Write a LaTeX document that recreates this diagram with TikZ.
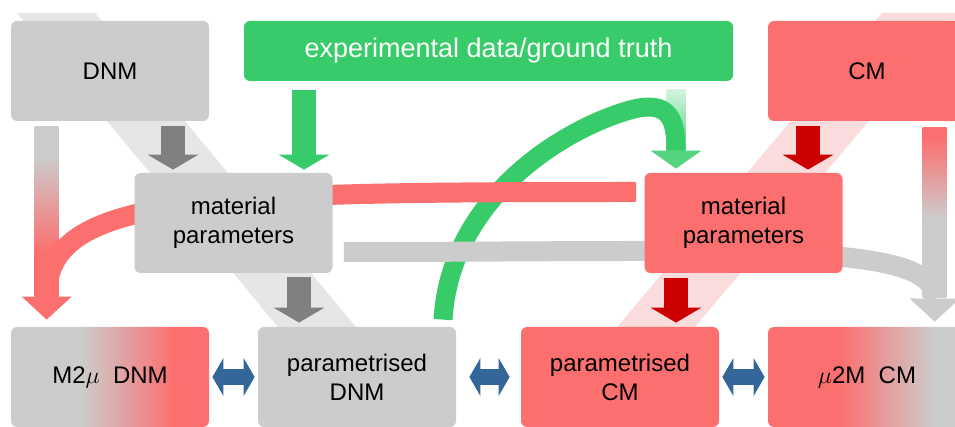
\documentclass[tikz,border=0pt]{standalone}
\usepackage{fontspec}
\setmainfont{Liberation Sans}
\usetikzlibrary{arrows.meta,calc}

\definecolor{boxgray}{HTML}{CCCCCC}
\definecolor{boxred}{HTML}{FC6F6F}
\definecolor{boxgreen}{HTML}{37CC69}
\definecolor{bandgray}{HTML}{E6E6E6}
\definecolor{bandred}{HTML}{FADCDC}
\definecolor{arrgray}{HTML}{808080}
\definecolor{arrred}{HTML}{CC0000}
\definecolor{arrblue}{HTML}{336699}

% gray-to-red fades for the mixed boxes and the side shafts
\pgfdeclarehorizontalshading{dnmshade}{100bp}{color(0bp)=(boxgray); color(43bp)=(boxgray); color(66bp)=(boxred); color(100bp)=(boxred)}
\pgfdeclarehorizontalshading{cmshade}{100bp}{color(0bp)=(boxred); color(43bp)=(boxred); color(67bp)=(boxgray); color(100bp)=(boxgray)}
\pgfdeclareverticalshading{dnmshaft}{100bp}{color(0bp)=(boxred); color(38bp)=(boxred); color(66bp)=(boxgray); color(100bp)=(boxgray)}
\pgfdeclareverticalshading{cmshaft}{100bp}{color(0bp)=(boxgray); color(48bp)=(boxgray); color(72bp)=(boxred); color(100bp)=(boxred)}

\pgfdeclarelayer{bg}
\pgfsetlayers{bg,main}

\begin{document}
\begin{tikzpicture}[x=0.5pt, y=-0.5pt, line join=round,
	box/.style={rounded corners=3pt, minimum width=99pt, minimum height=50pt, inner sep=0pt, align=center, font=\fontsize{12}{14.5}\selectfont},
	band/.style={line width=12pt, -{Triangle[length=7.5pt, width=25.5pt, line width=0pt]}, shorten <=2.5pt, shorten >=1.5pt},
	curve/.style={line width=10pt, -{Triangle[length=11.5pt, width=25pt, line width=0pt]}},
	exchange/.style={line width=8pt, arrblue, {Triangle[length=5.5pt, width=19pt, line width=0pt]}-{Triangle[length=5.5pt, width=19pt, line width=0pt]}, shorten <=1.5pt, shorten >=1.5pt}]
	\useasboundingbox (0,0) rectangle (955,427);

	% top row
	\node[box, fill=boxgray] (dnm) at (110,71) {DNM};
	\node[box, fill=boxgreen, minimum width=244.5pt, minimum height=30pt, text=white, font=\fontsize{13.5}{16}\selectfont] (exp) at (488.5,51) {experimental data/ground truth};
	\node[box, fill=boxred] (cm) at (867,71) {CM};
	% middle row
	\node[box, fill=boxgray] (matL) at (233.5,223) {material\\parameters};
	\node[box, fill=boxred] (matR) at (743.5,223) {material\\parameters};
	% bottom row
	\node[box, shade, shading=dnmshade] (m2mu) at (110,377) {M2$\mu$~~DNM};
	\node[box, fill=boxgray] (parD) at (357,377) {parametrised\\DNM};
	\node[box, fill=boxred] (parC) at (620,377) {parametrised\\CM};
	\node[box, shade, shading=cmshade] (mu2m) at (867,377) {$\mu$2M~~CM};

	\begin{pgfonlayer}{bg}
		% diagonal bands behind the boxes
		\fill[bandgray] (17,13) -- (95,13) -- (356,327) -- (278,327) -- cycle;
		\fill[bandred] (882,13) -- (960,13) -- (695,327) -- (617,327) -- cycle;

		% faded data arrow and the feedback loop into it
		\coordinate (gtip) at ($(676,0 |- matR.north)+(0,-4)$);
		\shade[top color=boxgreen!22!white, bottom color=boxgreen!85!white] ($(gtip |- exp.south)+(-9.5,8)$) rectangle ($(gtip)+(9.5,-18)$);
		\draw[boxgreen, line width=9.5pt] ([xshift=43pt,yshift=3.5pt]parD.north) .. controls (450,200) and (560,130) .. (630,110) .. controls (670,99) and (676,120) .. ($(gtip)+(0,-18)$);
		\fill[boxgreen!85!white] ($(gtip)+(-25.5,-18)$) -- ($(gtip)+(25.5,-18)$) -- (gtip) -- cycle;

		% side shafts
		\shade[shading=dnmshaft] ([xshift=12pt,yshift=-2.5pt]dnm.south west) rectangle ([xshift=24pt,yshift=15pt]m2mu.north west);
		\shade[shading=cmshaft] ([xshift=77.5pt,yshift=-3pt]cm.south west) rectangle ([xshift=89.5pt,yshift=14.5pt]mu2m.north west);

		% cross-over curves
		\draw[curve, boxred] ([xshift=-4pt,yshift=15.5pt]matR.west) .. controls (200,192) and (47,195) .. ([xshift=18pt,yshift=3.5pt]m2mu.north west);
		\draw[curve, boxgray] ([xshift=5.5pt,yshift=-14.5pt]matL.east) .. controls (740,252) and (935,240) .. ([xshift=83.5pt,yshift=2.5pt]mu2m.north west);

		% short block arrows
		\draw[band, arrgray] (173,0 |- dnm.south) -- (173,0 |- matL.north);
		\draw[band, boxgreen, shorten <=4.5pt] (304,0 |- exp.south) -- (304,0 |- matL.north);
		\draw[band, arrgray, shorten <=2pt, shorten >=2pt] (299,0 |- matL.south) -- (299,0 |- parD.north);
		\draw[band, arrred] (808,0 |- cm.south) -- (808,0 |- matR.north);
		\draw[band, arrred, shorten <=2.5pt, shorten >=2pt] (676,0 |- matR.south) -- (676,0 |- parC.north);
	\end{pgfonlayer}

	% two-way arrows along the bottom row
	\draw[exchange] (m2mu.east) -- (parD.west);
	\draw[exchange, shorten <=6.5pt, shorten >=5.5pt] (parD.east) -- (parC.west);
	\draw[exchange] (parC.east) -- (mu2m.west);
\end{tikzpicture}
\end{document}
